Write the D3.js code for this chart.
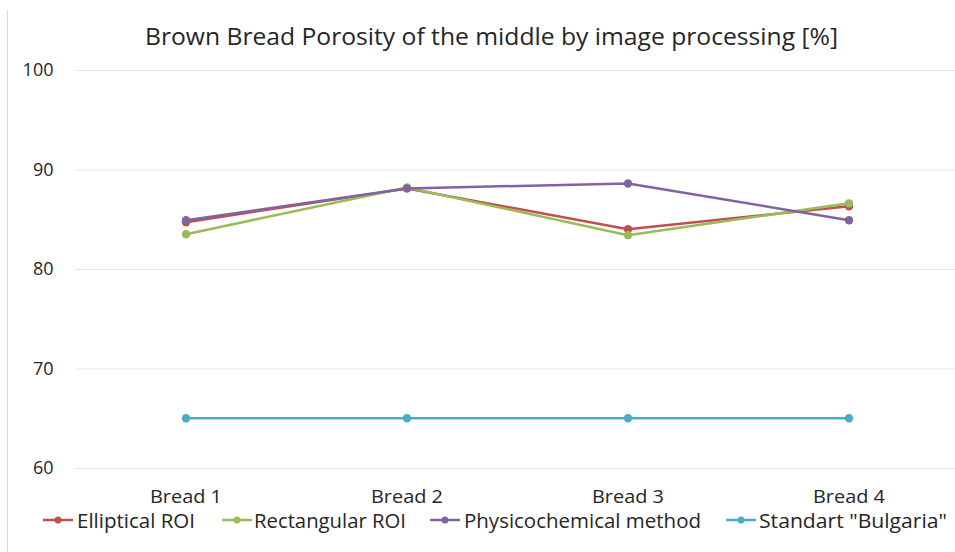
<!DOCTYPE html>
<html>
<head>
<meta charset="utf-8">
<script src="https://cdn.jsdelivr.net/npm/d3@7"></script>
<style>
  html, body { margin: 0; padding: 0; background: #fff; }
  svg { display: block; font-family: "Open Sans", "Noto Sans", sans-serif; }
</style>
</head>
<body>
<svg id="chart" width="955" height="552"></svg>
<script>
// Porosity of the crumb (middle) per bread sample, in %
const categories = ["Bread 1", "Bread 2", "Bread 3", "Bread 4"];
const elliptical = [84.7, 88.1, 84.0, 86.3];
const rectangular = [83.5, 88.2, 83.4, 86.6];
const physicochemical = [84.9, 88.1, 88.6, 84.9];
const standard = [65, 65, 65, 65];
const seriesNames = ["Elliptical ROI", "Rectangular ROI", "Physicochemical method", "Standart \"Bulgaria\""];
const seriesColors = ["#C0504D", "#9BBB59", "#8064A2", "#4BACC6"];
const yTicks = [60, 70, 80, 90, 100];
const title = "Brown Bread Porosity of the middle by image processing [%]";

const series = [elliptical, rectangular, physicochemical, standard].map((values, i) => ({
  name: seriesNames[i], color: seriesColors[i], values
}));

const svg = d3.select("#chart");
const plot = { left: 75.5, right: 959.5, top: 70, bottom: 468 };

const x = d3.scaleBand().domain(categories).range([plot.left, plot.right]);
const y = d3.scaleLinear().domain([60, 100]).range([plot.bottom, plot.top]);

// thin frame edge on the left
svg.append("line")
  .attr("x1", 7.5).attr("x2", 7.5).attr("y1", 10).attr("y2", 552)
  .attr("stroke", "#d9d9d9").attr("stroke-width", 1);

// title
svg.append("text")
  .attr("x", 491.5).attr("y", 36)
  .attr("text-anchor", "middle").attr("dominant-baseline", "central")
  .attr("font-size", 23).attr("fill", "#262626")
  .attr("textLength", 693).attr("lengthAdjust", "spacingAndGlyphs")
  .text(title);

// horizontal gridlines + y labels
const yAxis = d3.axisLeft(y).tickValues(yTicks).tickSize(-(955 - plot.left)).tickPadding(22);
const gy = svg.append("g").attr("transform", `translate(${plot.left},0)`).call(yAxis);
gy.select(".domain").remove();
gy.selectAll(".tick line").attr("stroke", "#e6e6e6").attr("stroke-width", 1);
gy.selectAll(".tick text")
  .attr("font-size", 18).attr("fill", "#262626")
  .attr("font-family", "\"Open Sans\", sans-serif");

// category labels
const xAxis = d3.axisBottom(x).tickSize(0).tickPadding(0);
const gx = svg.append("g").attr("transform", `translate(0,${plot.bottom})`).call(xAxis);
gx.select(".domain").remove();
gx.selectAll(".tick text")
  .attr("font-size", 19).attr("fill", "#262626")
  .attr("font-family", "\"Open Sans\", sans-serif")
  .attr("textLength", 72).attr("lengthAdjust", "spacingAndGlyphs")
  .attr("dy", null).attr("y", 28).attr("dominant-baseline", "central");

const cx = c => x(c) + x.bandwidth() / 2;
const line = d3.line().x((d, i) => cx(categories[i])).y(d => y(d));

const sg = svg.append("g").selectAll("g").data(series).join("g");
sg.append("path")
  .attr("d", d => line(d.values))
  .attr("fill", "none").attr("stroke", d => d.color)
  .attr("stroke-width", 2.5).attr("stroke-linejoin", "round");
sg.selectAll("circle").data(d => d.values.map(v => ({ v, color: d.color })))
  .join("circle")
  .attr("cx", (d, i) => cx(categories[i])).attr("cy", d => y(d.v))
  .attr("r", 4.2).attr("fill", d => d.color);

// legend
const legendItems = [
  { x: 43, tx: 77, w: 118 },
  { x: 222, tx: 254, w: 152 },
  { x: 430, tx: 464, w: 237 },
  { x: 726, tx: 759, w: 188 }
];
const lg = svg.append("g").selectAll("g").data(series).join("g");
lg.append("line")
  .attr("x1", (d, i) => legendItems[i].x).attr("x2", (d, i) => legendItems[i].x + 30)
  .attr("y1", 520).attr("y2", 520)
  .attr("stroke", d => d.color).attr("stroke-width", 2.5);
lg.append("circle")
  .attr("cx", (d, i) => legendItems[i].x + 15).attr("cy", 520)
  .attr("r", 3.5).attr("fill", d => d.color);
lg.append("text")
  .attr("x", (d, i) => legendItems[i].tx).attr("y", 520)
  .attr("dominant-baseline", "central")
  .attr("font-size", 20).attr("fill", "#262626")
  .attr("textLength", (d, i) => legendItems[i].w).attr("lengthAdjust", "spacingAndGlyphs")
  .text(d => d.name);
</script>
</body>
</html>
